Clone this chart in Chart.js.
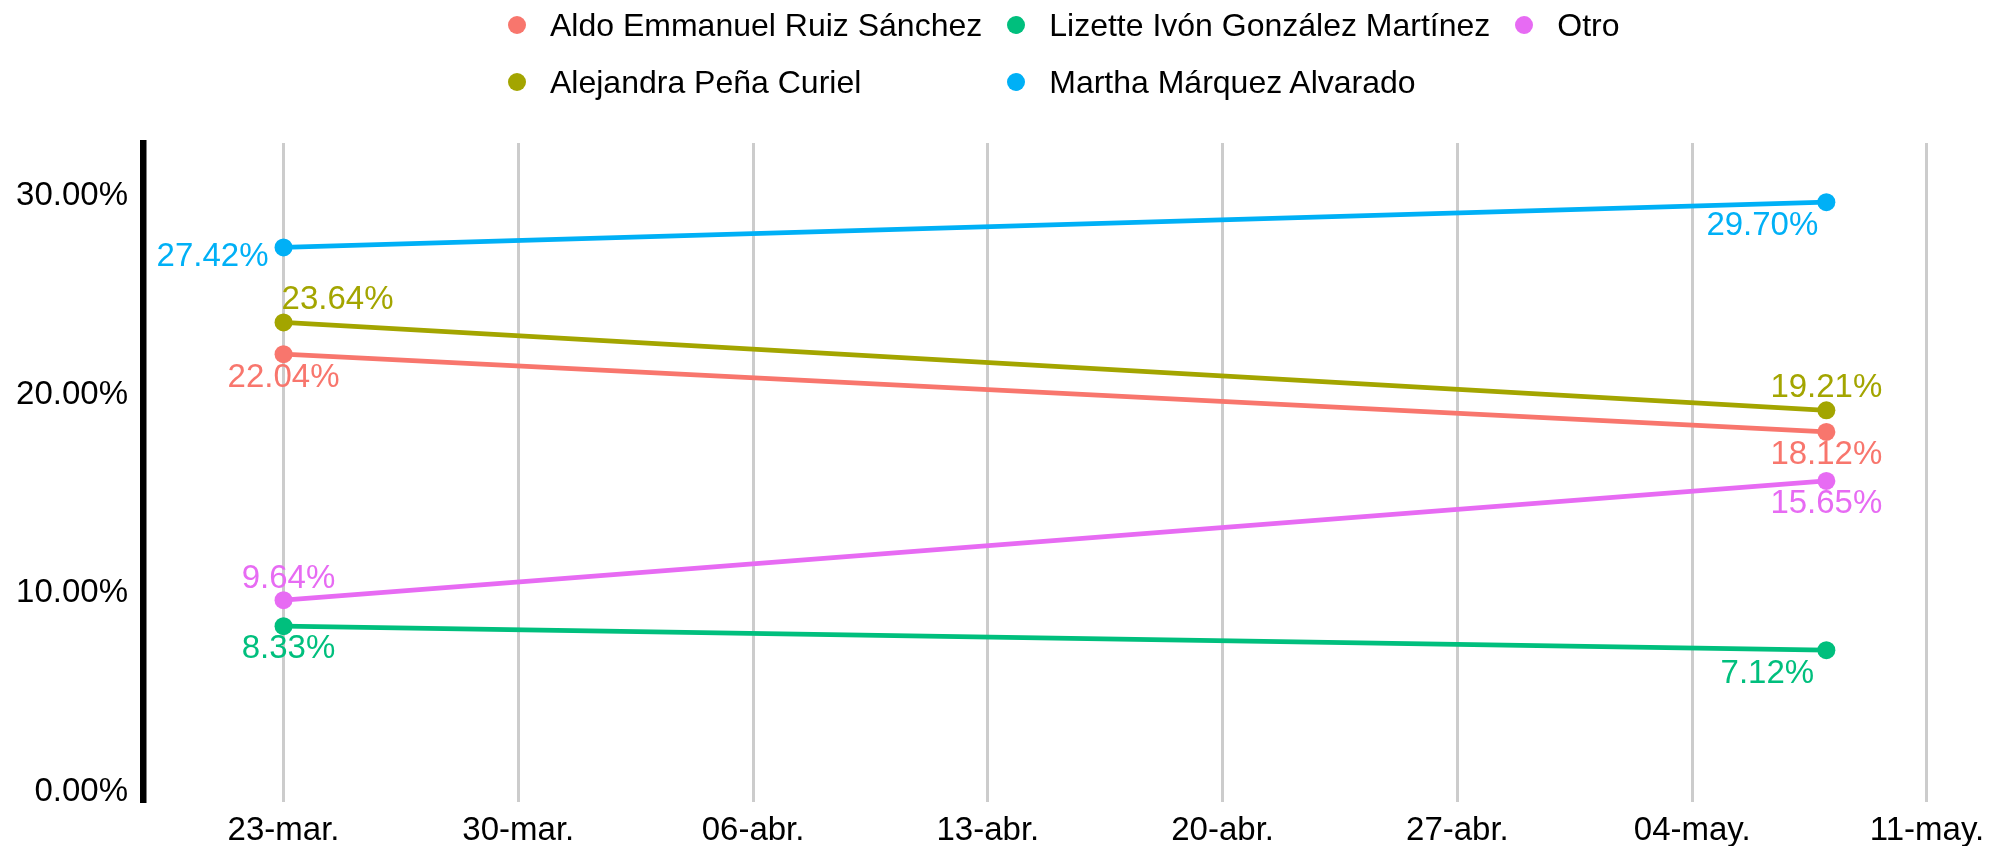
<!DOCTYPE html>
<html>
<head>
<meta charset="utf-8">
<script src="https://cdn.jsdelivr.net/npm/chart.js@4.4.1/dist/chart.umd.min.js"></script>
<style>
  html, body { margin: 0; padding: 0; background: #fff; overflow: hidden; }
  #wrap { position: relative; width: 1995px; height: 846px; }
  #legend {
    position: absolute; left: 508px; top: 0;
    display: grid; grid-template-rows: 50px 50px; row-gap: 7px;
    grid-auto-flow: column; column-gap: 25px;
    font: 32px "Liberation Sans", Arial, sans-serif; color: #000;
  }
  #legend .item { display: flex; align-items: center; white-space: nowrap; }
  #legend .dot { width: 18px; height: 18px; border-radius: 50%; margin-right: 24px; flex: none; }
</style>
</head>
<body>
<div id="wrap">
  <canvas id="myChart"></canvas>
  <div id="legend"></div>
</div>
<script>
// survey data (share of vote, %)
const candidates = ['Aldo Emmanuel Ruiz Sánchez', 'Alejandra Peña Curiel', 'Lizette Ivón González Martínez', 'Martha Márquez Alvarado', 'Otro'];
const surveyDates = ['2024-03-23', '2024-05-08'];
const aldo = [22.04, 18.12];
const alejandra = [23.64, 19.21];
const lizette = [8.33, 7.12];
const martha = [27.42, 29.70];
const otro = [9.64, 15.65];

const xTickDates = ['2024-03-23', '2024-03-30', '2024-04-06', '2024-04-13', '2024-04-20', '2024-04-27', '2024-05-04', '2024-05-11'];
const xTickLabels = ['23-mar.', '30-mar.', '06-abr.', '13-abr.', '20-abr.', '27-abr.', '04-may.', '11-may.'];
const yTicks = [0, 10, 20, 30];

const colors = ['#F8766D', '#A3A500', '#00BF7D', '#00B0F6', '#E76BF3'];
// label offsets from each point, px  [dx, dy]
const labelOffsets = [
  [[0, 24], [0, 23]],
  [[54, -22], [0, -22]],
  [[5, 23], [-59, 24]],
  [[-71, 10], [-64, 24]],
  [[5, -21], [0, 23]]
];

const day = d => Date.parse(d) / 86400000;
const seriesValues = [aldo, alejandra, lizette, martha, otro];
const FONT = '"Liberation Sans", Arial, sans-serif';

Chart.defaults.font.family = FONT;
Chart.defaults.color = '#000';

const pointLabels = {
  id: 'pointLabels',
  afterDatasetsDraw(chart) {
    const ctx = chart.ctx;
    chart.data.datasets.forEach((ds, i) => {
      chart.getDatasetMeta(i).data.forEach((pt, j) => {
        const off = labelOffsets[i][j];
        ctx.save();
        ctx.font = '33px ' + FONT;
        ctx.fillStyle = ds.borderColor;
        ctx.textAlign = 'center';
        ctx.textBaseline = 'middle';
        ctx.fillText(ds.data[j].y.toFixed(2) + '%', pt.x + off[0], pt.y + off[1]);
        ctx.restore();
      });
    });
  }
};

const data = {
  datasets: candidates.map((name, i) => ({
    label: name,
    data: surveyDates.map((d, j) => ({ x: day(d), y: seriesValues[i][j] })),
    borderColor: colors[i],
    backgroundColor: colors[i],
    borderWidth: 4.7,
    pointRadius: 9,
    pointBorderWidth: 0,
    tension: 0
  }))
};

const config = {
  type: 'line',
  data: data,
  options: {
    responsive: true,
    maintainAspectRatio: false,
    animation: false,
    layout: { padding: { top: 143, left: 0, right: 0, bottom: 0 } },
    plugins: { legend: { display: false }, tooltip: { enabled: false } },
    scales: {
      x: {
        type: 'linear',
        min: day(surveyDates[0]) - 4.19,
        max: day(surveyDates[0]) + 50.76,
        afterBuildTicks: s => { s.ticks = xTickDates.map(d => ({ value: day(d) })); },
        afterFit: s => { s.paddingRight = 0; s.paddingLeft = 0; s.height = 44; },
        ticks: {
          font: { size: 33, lineHeight: 1 },
          padding: 12,
          maxRotation: 0,
          autoSkip: false,
          callback: (v, i) => xTickLabels[i]
        },
        grid: { color: '#cccccc', lineWidth: 3, drawTicks: false },
        border: { display: false }
      },
      y: {
        min: -0.53,
        max: 32.68,
        afterBuildTicks: s => { s.ticks = yTicks.map(v => ({ value: v })); },
        afterFit: s => { s.width = 143; s.paddingBottom = 0; s.paddingTop = 0; },
        ticks: {
          font: { size: 33, lineHeight: 1 },
          padding: 15,
          callback: v => v.toFixed(2) + '%'
        },
        grid: { display: false, drawTicks: false },
        border: { display: true, color: '#000', width: 6.5 }
      }
    }
  },
  plugins: [pointLabels]
};

const myChart = new Chart(document.getElementById('myChart'), config);

// legend in column order, like the original
const legend = document.getElementById('legend');
myChart.data.datasets.forEach(ds => {
  const item = document.createElement('div');
  item.className = 'item';
  const dot = document.createElement('span');
  dot.className = 'dot';
  dot.style.background = ds.borderColor;
  item.appendChild(dot);
  item.appendChild(document.createTextNode(ds.label));
  legend.appendChild(item);
});
</script>
</body>
</html>
